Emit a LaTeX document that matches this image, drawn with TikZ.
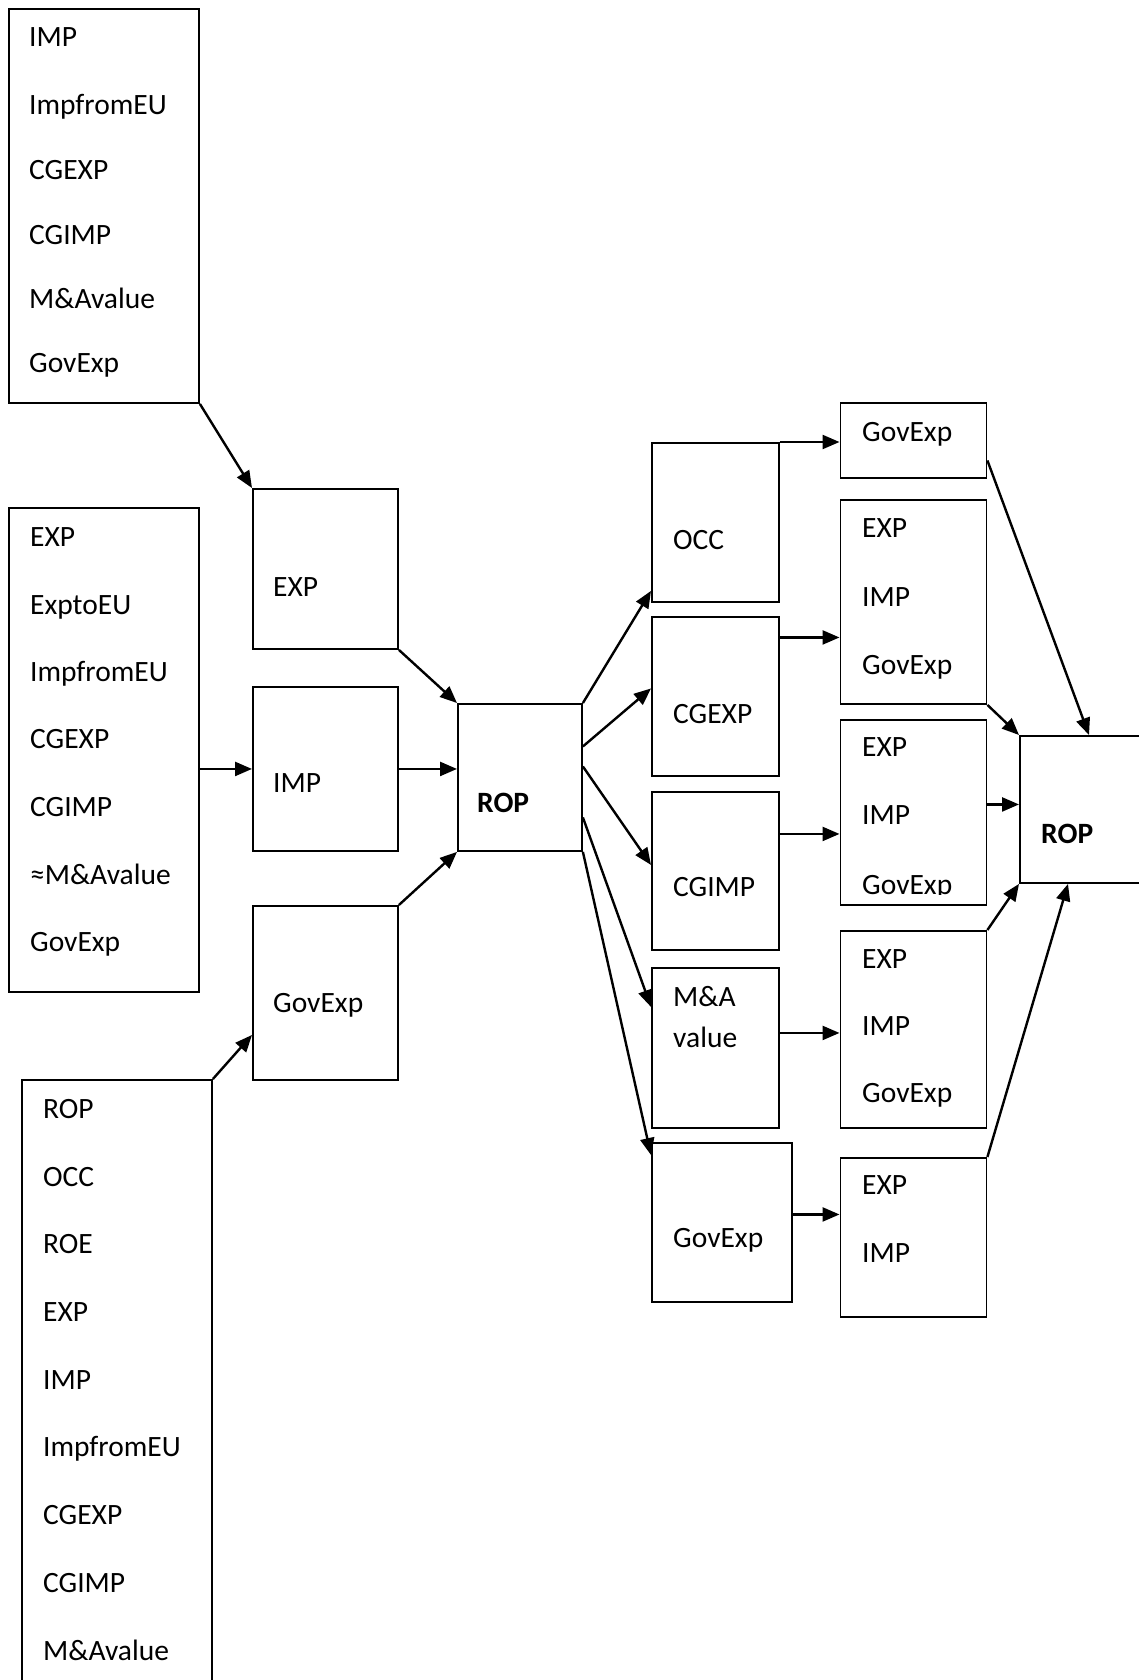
\documentclass[tikz,border=0pt]{standalone}
\usepackage{fontspec}
\setmainfont{Carlito}
\usetikzlibrary{arrows.meta}

\begin{document}
\begin{tikzpicture}[x=1pt,y=-1pt]
    \tikzset{bx/.style 2 args={draw,line width=1.9pt,inner sep=0pt,anchor=north west,minimum width=#1,minimum height=#2},
      lbl/.style={anchor=base west,inner sep=0pt,font=\fontsize{29.5}{34}\selectfont},
      arr/.style={-{Triangle[length=17pt,width=14pt]},line width=2.4pt}}

    \useasboundingbox (0,0) rectangle (1139,1680);
    \clip (0,0) rectangle (1139,1680);

    % input lists
    \node [bx={190pt}{394pt}] (lst1) at (8,8) {};
    \node [bx={190pt}{484pt}] (lst2) at (8,507) {};
    \node [bx={190pt}{700pt}] (lst3) at (21,1079) {};
    \foreach \t/\y [count=\i] in {IMP/47,ImpfromEU/115,CGEXP/180,CGIMP/244,M\&Avalue/308,GovExp/372}
      \node [lbl] (lst1-\i) at (29,\y) {\t};
    \foreach \t/\y [count=\i] in {EXP/546,ExptoEU/614,ImpfromEU/681,CGEXP/748,CGIMP/816,≈M\&Avalue/884,GovExp/951}
      \node [lbl] (lst2-\i) at (30,\y) {\t};
    \foreach \t/\y [count=\i] in {ROP/1118,OCC/1186,ROE/1253,EXP/1321,IMP/1389,ImpfromEU/1456,CGEXP/1524,CGIMP/1592,M\&Avalue/1660}
      \node [lbl] (lst3-\i) at (43,\y) {\t};

    % first stage
    \node [bx={145pt}{160pt}] (exp) at (252,488) {};
    \node [bx={145pt}{164pt}] (imp) at (252,686) {};
    \node [bx={145pt}{174pt}] (govl) at (252,905) {};
    \node [lbl] (exp-t) at (273,596) {EXP};
    \node [lbl] (imp-t) at (273,792) {IMP};
    \node [lbl] (govl-t) at (273,1012) {GovExp};

    \node [bx={124pt}{147pt}] (rop) at (457,703) {};
    \node [lbl,font=\fontsize{29.5}{34}\selectfont\bfseries] (rop-t) at (477,812) {ROP};

    % second stage
    \node [bx={127pt}{159pt}] (occ) at (651,442) {};
    \node [bx={127pt}{159pt}] (cgexp) at (651,616) {};
    \node [bx={127pt}{158pt}] (cgimp) at (651,791) {};
    \node [bx={127pt}{160pt}] (mna) at (651,967) {};
    \node [bx={140pt}{159pt}] (govm) at (651,1142) {};
    \node [lbl] (occ-t) at (673,549) {OCC};
    \node [lbl] (cgexp-t) at (673,723) {CGEXP};
    \node [lbl] (cgimp-t) at (673,896) {CGIMP};
    \node [lbl] (mna-t1) at (673,1006) {M\&A};
    \node [lbl] (mna-t2) at (673,1047) {value};
    \node [lbl] (govm-t) at (673,1247) {GovExp};

    % third stage
    \node [bx={146pt}{75pt}] (gtop) at (839.5,402) {};
    \node [bx={146pt}{204pt}] (bxa) at (839.5,499) {};
    \node [bx={146pt}{185pt}] (bxb) at (839.5,719) {};
    \node [bx={146pt}{197pt}] (bxc) at (839.5,930) {};
    \node [bx={146pt}{159pt}] (bxd) at (839.5,1157) {};
    \node [lbl] (gtop-t) at (862,441) {GovExp};
    \foreach \t/\y [count=\i] in {EXP/537,IMP/606,GovExp/674}
      \node [lbl] (bxa-\i) at (862,\y) {\t};
    \foreach \t/\y [count=\i] in {EXP/756,IMP/824}
      \node [lbl] (bxb-\i) at (862,\y) {\t};
    \begin{scope}
      \clip (bxb.north west) rectangle ([yshift=11pt]bxb.south east);
      \node [lbl] (bxb-3) at (862,894) {GovExp};
    \end{scope}
    \foreach \t/\y [count=\i] in {EXP/968,IMP/1035,GovExp/1102}
      \node [lbl] (bxc-\i) at (862,\y) {\t};
    \foreach \t/\y [count=\i] in {EXP/1194,IMP/1262}
      \node [lbl] (bxd-\i) at (862,\y) {\t};

    \node [bx={200pt}{147pt}] (rop2) at (1019,735) {};
    \node [lbl,font=\fontsize{29.5}{34}\selectfont\bfseries] (rop2-t) at (1041,843) {ROP};

    % connectors
    \draw [arr] (lst1.south east) -- (exp.north west);
    \draw [arr] (lst2.east |- imp.west) -- (imp.west);
    \draw [arr] (lst3.north east) -- ([yshift=-42pt]govl.west);
    \draw [arr] (exp.south east) -- (rop.north west);
    \draw [arr] (imp.east) -- (imp.east -| rop.west);
    \draw [arr] (govl.north east) -- (rop.south west);

    \draw [arr] (rop.north east) -- ([yshift=12pt]occ.south west);
    \draw [arr] ([yshift=31pt]rop.east) -- ([yshift=8pt]cgexp.west);
    \draw [arr] ([yshift=11pt]rop.east) -- ([yshift=6pt]cgimp.west);
    \draw [arr] ([yshift=-40pt]rop.east) -- ([yshift=41pt]mna.west);
    \draw [arr] (rop.south east) -- ([yshift=-13pt]govm.north west);

    \draw [arr] (occ.north east) -- (occ.north east -| gtop.west);
    \draw [arr] ([yshift=59pt]cgexp.east) -- ([yshift=59pt]cgexp.east -| bxa.west);
    \draw [arr] ([yshift=37pt]cgimp.east) -- ([yshift=37pt]cgimp.east -| bxb.west);
    \draw [arr] ([yshift=15pt]mna.east) -- ([yshift=15pt]mna.east -| bxc.west);
    \draw [arr] ([yshift=8pt]govm.east) -- ([yshift=8pt]govm.east -| bxd.west);

    \draw [arr] ([yshift=-20pt]gtop.east) -- ([xshift=70pt]rop2.north west);
    \draw [arr] (bxa.south east) -- (rop2.north west);
    \draw [arr] ([yshift=8pt]bxb.east) -- ([yshift=8pt]bxb.east -| rop2.west);
    \draw [arr] (bxc.north east) -- (rop2.south west);
    \draw [arr] (bxd.north east) -- ([xshift=49pt]rop2.south west);
  \end{tikzpicture}
\end{document}
